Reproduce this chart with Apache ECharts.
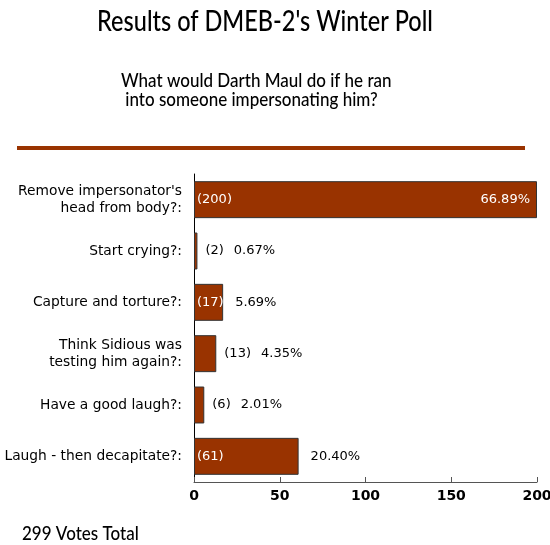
<!DOCTYPE html>
<html lang="en">
  <head>
    <meta charset="UTF-8" />
    <title>Winter Poll</title>
    <script src="https://cdn.jsdelivr.net/npm/echarts@6/dist/echarts.min.js"></script>
    <style>
      html, body { margin: 0; padding: 0; background: #fff; }
      #main { width: 550px; height: 545px; }
    </style>
  </head>
  <body>
    <div id="main"></div>
    <script>
      // poll data
      var categories = [
        "Remove impersonator's\nhead from body?:",
        "Start crying?:",
        "Capture and torture?:",
        "Think Sidious was\ntesting him again?:",
        "Have a good laugh?:",
        "Laugh - then decapitate?:"
      ];
      var votes = [200, 2, 17, 13, 6, 61];
      var percents = ["66.89%", "0.67%", "5.69%", "4.35%", "2.01%", "20.40%"];
      var totalVotes = 299;
      var axisMax = 200;
      var axisStep = 50;

      var barColor = "#993300";
      var plotWidth = 343; // grid width in px, used to decide if the count fits inside

      function countInside(v) {
        return (v / axisMax) * plotWidth > 26;
      }

      // main bars: count label inside when it fits
      var barData = votes.map(function (v) {
        return {
          value: v,
          label: {
            show: countInside(v),
            position: "insideLeft",
            distance: 3,
            color: "#fff",
            overflow: "none",
            formatter: "(" + v + ")"
          }
        };
      });

      // overlay: percentage (and count when it doesn't fit)
      var pctData = votes.map(function (v, i) {
        var lbl;
        if (v === axisMax) {
          lbl = { position: "insideRight", distance: 7, color: "#fff", formatter: percents[i] };
        } else if (countInside(v)) {
          lbl = { position: "right", distance: 12, color: "#000", formatter: percents[i] };
        } else {
          lbl = {
            position: "right",
            distance: 8,
            color: "#000",
            formatter: "(" + v + "){p|" + percents[i] + "}"
          };
        }
        lbl.show = true;
        lbl.overflow = "none";
        return { value: v, label: lbl };
      });

      // headings drawn as text, stretched a little vertically like the original font
      function heading(text, x, y, size, align, sy) {
        return {
          type: "text",
          x: x,
          y: y,
          scaleY: sy,
          style: {
            text: text,
            font: "500 " + size + "px Lato",
            fill: "#000",
            textAlign: align,
            textVerticalAlign: "middle"
          }
        };
      }

      var chart = echarts.init(document.getElementById("main"));
      var option = {
        animation: false,
        graphic: [
          heading("Results of DMEB-2's Winter Poll", 265, 22, 23.5, "center", 1.2),
          heading("What would Darth Maul do if he ran", 121, 81, 17, "left", 1.1),
          heading(" into someone impersonating him?", 121, 100, 17, "left", 1.1),
          heading(totalVotes + " Votes Total", 22, 534, 17, "left", 1.1),
          {
            type: "rect",
            shape: { x: 17, y: 146, width: 508, height: 4 },
            style: { fill: barColor }
          }
        ],
        grid: { left: 194, right: 13, top: 174, bottom: 63, outerBoundsMode: "none" },
        xAxis: {
          type: "value",
          min: 0,
          max: axisMax,
          interval: axisStep,
          splitLine: { show: false },
          axisLine: { show: true, lineStyle: { color: "#555", width: 1 } },
          axisTick: { show: true, inside: true, length: 5, lineStyle: { color: "#555" } },
          axisLabel: {
            fontFamily: "DejaVu Sans", fontSize: 14, fontWeight: "bold",
            color: "#000", margin: 7
          }
        },
        yAxis: {
          type: "category",
          inverse: true,
          data: categories,
          axisLine: { show: true, lineStyle: { color: "#000", width: 1 } },
          axisTick: { show: false },
          axisLabel: {
            fontFamily: "DejaVu Sans", fontSize: 13.8, color: "#000",
            margin: 12, lineHeight: 17, align: "right"
          }
        },
        series: [
          {
            name: "votes",
            type: "bar",
            data: barData,
            barWidth: "72%",
            itemStyle: { color: barColor, borderColor: "#333", borderWidth: 1 },
            label: { fontFamily: "DejaVu Sans", fontSize: 13 },
            z: 2
          },
          {
            name: "pct",
            type: "bar",
            data: pctData,
            barWidth: "72%",
            barGap: "-100%",
            itemStyle: { color: "rgba(0,0,0,0)" },
            label: {
              fontFamily: "DejaVu Sans", fontSize: 13,
              rich: { p: { fontFamily: "DejaVu Sans", fontSize: 13, color: "#000", padding: [0, 0, 0, 10] } }
            },
            silent: true,
            z: 3
          }
        ]
      };
      chart.setOption(option);
    </script>
  </body>
</html>
